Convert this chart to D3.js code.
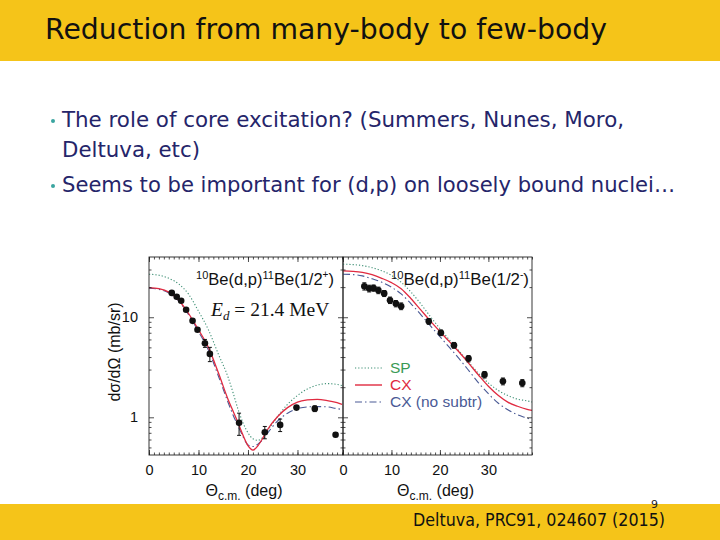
<!DOCTYPE html>
<html>
<head>
<meta charset="utf-8">
<script src="https://cdn.jsdelivr.net/npm/d3@7"></script>
<style>
  body { margin: 0; background: #fff; }
  svg { display: block; }
</style>
</head>
<body>
<svg id="slide" width="720" height="540"></svg>
<script>
// ---- data ----
var curveX = [0, 2, 4, 6, 8, 10, 12, 14, 16, 17, 18, 19, 20, 21, 22, 23, 24, 26, 28, 30, 32, 34, 36, 38, 39];
// left panel: 1/2+ state
var leftSP   = [26.9, 26.3, 24.5, 21.5, 17.0, 11.5, 7.5, 4.3, 2.5, 1.75, 1.2, 0.88, 0.7, 0.61, 0.59, 0.63, 0.74, 1.02, 1.35, 1.65, 1.92, 2.1, 2.17, 2.13, 2.08];
var leftCX   = [19.8, 19.3, 17.8, 14.8, 10.9, 7.5, 5.0, 2.8, 1.5, 1.15, 0.88, 0.66, 0.52, 0.47, 0.52, 0.62, 0.76, 1.02, 1.25, 1.42, 1.49, 1.51, 1.47, 1.4, 1.35];
var leftNS   = [19.5, 19.0, 17.5, 14.5, 10.6, 7.2, 4.7, 2.6, 1.4, 1.05, 0.82, 0.64, 0.53, 0.51, 0.54, 0.6, 0.7, 0.92, 1.1, 1.22, 1.27, 1.28, 1.27, 1.22, 1.2];
var leftDataX = [4.6, 5.6, 6.5, 7.5, 8.8, 9.8, 11.3, 12.3, 18.2, 23.4, 26.5, 29.8, 33.5, 37.7];
var leftDataY = [17.5, 16.0, 14.6, 11.9, 9.2, 7.5, 5.5, 4.3, 0.88, 0.71, 0.84, 1.25, 1.22, 0.67];
var leftErr   = [0.6, 0.6, 0.5, 0.4, 0.3, 0.3, 0.5, 0.7, 0.22, 0.1, 0.12, 0.06, 0.08, 0.03];

// right panel: 1/2- state
var rightX  = [0, 2, 4, 6, 8, 10, 12, 14, 16, 18, 20, 22, 24, 26, 28, 30, 32, 34, 36, 38, 39];
var rightSP = [33.9, 33.6, 32.8, 31.3, 29.1, 26.2, 22.4, 17.9, 13.7, 10.2, 7.7, 5.9, 4.57, 3.52, 2.73, 2.2, 1.86, 1.65, 1.52, 1.46, 1.42];
var rightCX = [29.1, 28.8, 28.1, 26.6, 24.5, 22.2, 19.3, 15.4, 11.9, 9.2, 7.2, 5.67, 4.47, 3.44, 2.63, 2.04, 1.66, 1.42, 1.29, 1.2, 1.17];
var rightNS = [26.9, 26.7, 25.9, 24.2, 22.4, 19.95, 17.1, 13.7, 10.7, 8.26, 6.4, 4.97, 3.83, 2.91, 2.2, 1.72, 1.39, 1.19, 1.06, 0.98, 0.94];
var rightDataX = [4.4, 5.4, 6.3, 7.3, 8.5, 9.7, 10.9, 12.0, 17.7, 20.2, 22.9, 25.9, 29.2, 33.0, 37.0];
var rightDataY = [20.4, 19.4, 19.6, 18.6, 17.3, 14.8, 13.7, 12.9, 9.1, 7.0, 5.25, 3.86, 2.67, 2.29, 2.2];
var rightErr   = [1.7, 1.5, 1.4, 1.4, 1.2, 1.1, 1.0, 1.0, 0.6, 0.45, 0.35, 0.28, 0.2, 0.18, 0.18];

var xTicks = [0, 10, 20, 30];
var yTicks = [1, 10];
var legendNames = ["SP", "CX", "CX (no subtr)"];

var bullets = [
  ["The role of core excitation? (Summers, Nunes, Moro,", "Deltuva, etc)"],
  ["Seems to be important for (d,p) on loosely bound nuclei…"]
];

// ---- styles ----
var YELLOW = "#f5c419";
var NAVY = "#25256a";
var colSP = "#3d8f74", colCX = "#e02a40", colNS = "#4a5a95";
var FIG = "'Liberation Sans', Arial, sans-serif";
var SLIDE = "'DejaVu Sans', Verdana, sans-serif";

var svg = d3.select("#slide");

// banners
svg.append("rect").attr("x", 0).attr("y", 0).attr("width", 720).attr("height", 61).attr("fill", YELLOW);
svg.append("rect").attr("x", 0).attr("y", 504).attr("width", 720).attr("height", 36).attr("fill", YELLOW);

svg.append("text")
  .attr("x", 45).attr("y", 39)
  .attr("font-family", SLIDE).attr("font-size", 28)
  .attr("textLength", 562).attr("lengthAdjust", "spacingAndGlyphs")
  .attr("fill", "#111")
  .text("Reduction from many-body to few-body");

// bullets
var lineY = [127, 157, 192];
var lineW = [562, 138, 613];
var li = 0;
bullets.forEach(function (b) {
  svg.append("circle").attr("cx", 53).attr("cy", lineY[li] - 6).attr("r", 2).attr("fill", "#3aa5a0");
  b.forEach(function (line) {
    svg.append("text")
      .attr("x", 62).attr("y", lineY[li])
      .attr("font-family", SLIDE).attr("font-size", 21.3)
      .attr("textLength", lineW[li]).attr("lengthAdjust", "spacingAndGlyphs")
      .attr("fill", NAVY)
      .text(line);
    li++;
  });
});

// footer
svg.append("text").attr("x", 651).attr("y", 508)
  .attr("font-family", SLIDE).attr("font-size", 11).attr("fill", "#222").text("9");
svg.append("text").attr("x", 413).attr("y", 526)
  .attr("font-family", SLIDE).attr("font-size", 17.5)
  .attr("textLength", 252).attr("lengthAdjust", "spacingAndGlyphs")
  .attr("fill", "#111").text("Deltuva, PRC91, 024607 (2015)");

// ---- chart ----
var TOP = 257, BOTTOM = 455;
var y = d3.scaleLog().domain([0.42, 40]).range([BOTTOM, TOP]);
var xL = d3.scaleLinear().domain([0, 39.2]).range([149, 343]);
var xR = d3.scaleLinear().domain([0, 39]).range([343, 532]);
var yMinor = [0.5, 0.6, 0.7, 0.8, 0.9, 2, 3, 4, 5, 6, 7, 8, 9, 20, 30];

function styleAxis(g) {
  g.select(".domain").remove();
  g.selectAll("line").attr("stroke", "#222").attr("stroke-width", 0.8);
  g.selectAll("text").attr("font-family", FIG).attr("font-size", 14.5).attr("fill", "#111");
}

function drawPanel(x, cx, sp, cxv, ns, dx, dy, de) {
  var g = svg.append("g");
  var x0 = x.range()[0], x1 = x.range()[1];

  var line = d3.line()
    .x(function (d) { return x(d[0]); })
    .y(function (d) { return y(d[1]); })
    .curve(d3.curveMonotoneX);

  g.append("path").datum(d3.zip(cx, sp)).attr("d", line)
    .attr("fill", "none").attr("stroke", colSP).attr("stroke-width", 1.1).attr("stroke-dasharray", "1.2,2");
  g.append("path").datum(d3.zip(cx, ns)).attr("d", line)
    .attr("fill", "none").attr("stroke", colNS).attr("stroke-width", 1.1).attr("stroke-dasharray", "7,3,1.5,3");
  g.append("path").datum(d3.zip(cx, cxv)).attr("d", line)
    .attr("fill", "none").attr("stroke", colCX).attr("stroke-width", 1.3);

  var pts = d3.zip(dx, dy, de);
  g.selectAll("line.err").data(pts).enter().append("line")
    .attr("x1", function (d) { return x(d[0]); }).attr("x2", function (d) { return x(d[0]); })
    .attr("y1", function (d) { return y(d[1] - d[2]); }).attr("y2", function (d) { return y(d[1] + d[2]); })
    .attr("stroke", "#111").attr("stroke-width", 1);
  [1, -1].forEach(function (s) {
    g.selectAll(null).data(pts).enter().append("line")
      .attr("x1", function (d) { return x(d[0]) - 2; }).attr("x2", function (d) { return x(d[0]) + 2; })
      .attr("y1", function (d) { return y(d[1] + s * d[2]); }).attr("y2", function (d) { return y(d[1] + s * d[2]); })
      .attr("stroke", "#111").attr("stroke-width", 1);
  });
  g.selectAll("circle").data(pts).enter().append("circle")
    .attr("cx", function (d) { return x(d[0]); })
    .attr("cy", function (d) { return y(d[1]); })
    .attr("r", 3.3).attr("fill", "#111");

  // ticks: bottom and top, major + minor
  var minor = d3.range(0, Math.floor(x.domain()[1]) + 1, 1);
  g.append("g").attr("transform", "translate(0," + BOTTOM + ")")
    .call(d3.axisBottom(x).tickValues(minor).tickSize(-2.5).tickFormat("")).call(styleAxis);
  g.append("g").attr("transform", "translate(0," + BOTTOM + ")")
    .call(d3.axisBottom(x).tickValues(xTicks).tickSize(-5).tickPadding(10).tickFormat(d3.format("d"))).call(styleAxis);
  g.append("g").attr("transform", "translate(0," + TOP + ")")
    .call(d3.axisTop(x).tickValues(minor).tickSize(-2.5).tickFormat("")).call(styleAxis);
  g.append("g").attr("transform", "translate(0," + TOP + ")")
    .call(d3.axisTop(x).tickValues(xTicks).tickSize(-5).tickFormat("")).call(styleAxis);

  // frame
  g.append("rect").attr("x", x0).attr("y", TOP).attr("width", x1 - x0).attr("height", BOTTOM - TOP)
    .attr("fill", "none").attr("stroke", "#222").attr("stroke-width", 0.9);

  // x label
  var lab = g.append("text").attr("x", (x0 + x1) / 2 - 2).attr("y", 496)
    .attr("text-anchor", "middle").attr("font-family", FIG).attr("font-size", 16).attr("fill", "#111");
  lab.append("tspan").text("Θ");
  lab.append("tspan").attr("dy", 4).attr("font-size", 12).text("c.m.");
  lab.append("tspan").attr("dy", -4).text(" (deg)");
  return g;
}

var gL = drawPanel(xL, curveX, leftSP, leftCX, leftNS, leftDataX, leftDataY, leftErr);
var gR = drawPanel(xR, rightX, rightSP, rightCX, rightNS, rightDataX, rightDataY, rightErr);

// y ticks on left edge, the shared middle edge and the right edge
function yAxes(xpos, left, right, labels) {
  if (right) {
    svg.append("g").attr("transform", "translate(" + xpos + ",0)")
      .call(d3.axisLeft(y).tickValues(yMinor).tickSize(-2.5).tickFormat("")).call(styleAxis);
    svg.append("g").attr("transform", "translate(" + xpos + ",0)")
      .call(d3.axisLeft(y).tickValues(yTicks).tickSize(-5).tickPadding(11)
        .tickFormat(labels ? d3.format("d") : "")).call(styleAxis);
  }
  if (left) {
    svg.append("g").attr("transform", "translate(" + xpos + ",0)")
      .call(d3.axisRight(y).tickValues(yMinor).tickSize(-2.5).tickFormat("")).call(styleAxis);
    svg.append("g").attr("transform", "translate(" + xpos + ",0)")
      .call(d3.axisRight(y).tickValues(yTicks).tickSize(-5).tickFormat("")).call(styleAxis);
  }
}
yAxes(149, false, true, true);
yAxes(343, true, true, false);
yAxes(532, true, false, false);

// y label
svg.append("text")
  .attr("transform", "translate(120,352) rotate(-90)")
  .attr("text-anchor", "middle").attr("font-family", FIG).attr("font-size", 16).attr("fill", "#111")
  .text("dσ/dΩ  (mb/sr)");

// reaction labels
function reaction(xpos, parity) {
  var t = svg.append("text").attr("x", xpos).attr("y", 285)
    .attr("font-family", FIG).attr("font-size", 16.5).attr("fill", "#111")
    .attr("textLength", 138).attr("lengthAdjust", "spacingAndGlyphs");
  t.append("tspan").attr("font-size", 11).attr("dy", -6).text("10");
  t.append("tspan").attr("dy", 6).text("Be(d,p)");
  t.append("tspan").attr("font-size", 11).attr("dy", -6).text("11");
  t.append("tspan").attr("dy", 6).text("Be(1/2");
  t.append("tspan").attr("font-size", 10).attr("dy", -7).text(parity);
  t.append("tspan").attr("dy", 7).text(")");
}
reaction(196, "+");
reaction(391, "-");

var e = svg.append("text").attr("x", 211).attr("y", 316)
  .attr("font-family", "'Liberation Serif', 'Times New Roman', serif").attr("font-size", 19.5).attr("fill", "#111");
e.append("tspan").attr("font-style", "italic").text("E");
e.append("tspan").attr("font-style", "italic").attr("font-size", 13).attr("dy", 4).text("d");
e.append("tspan").attr("dy", -4).text(" = 21.4  MeV");

// legend
var legCols = [colSP, colCX, colNS];
var legDash = ["1.2,2", null, "7,3,1.5,3"];
var legTextCol = ["#3a9a55", "#e02a40", "#4a5a95"];
var legY = d3.scalePoint().domain(legendNames).range([368, 402]);
legendNames.forEach(function (n, i) {
  svg.append("line").attr("x1", 355).attr("x2", 382)
    .attr("y1", legY(n)).attr("y2", legY(n))
    .attr("stroke", legCols[i]).attr("stroke-width", i === 1 ? 1.4 : 1.1)
    .attr("stroke-dasharray", legDash[i]);
  svg.append("text").attr("x", 390).attr("y", legY(n) + 5)
    .attr("font-family", FIG).attr("font-size", 15.5).attr("fill", legTextCol[i]).text(n);
});
</script>
</body>
</html>
